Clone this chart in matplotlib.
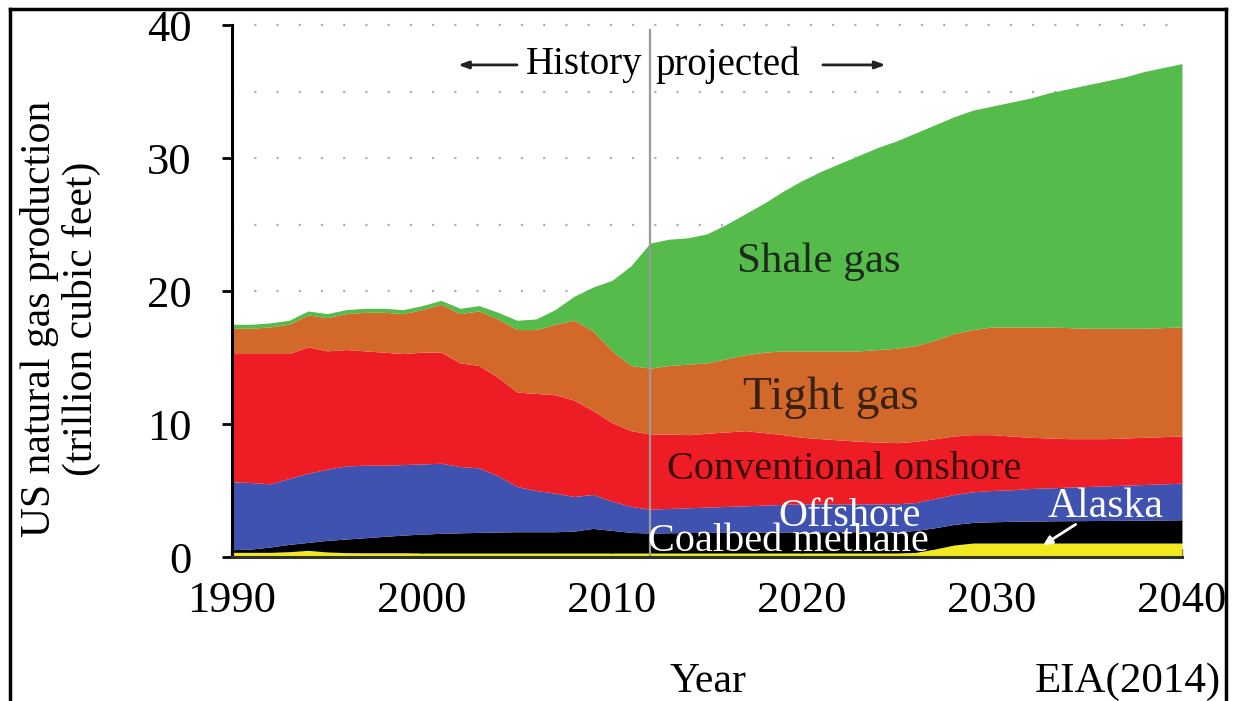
import matplotlib
matplotlib.use("Agg")
import matplotlib.pyplot as plt
from matplotlib.lines import Line2D
import numpy as np

plt.rcParams['font.family'] = ['Liberation Serif', 'DejaVu Serif']

years = list(range(1990, 2041))

# cumulative tops of each stacked layer (trillion cubic feet)
alaska_top = [0.35, 0.35, 0.35, 0.4, 0.5, 0.38, 0.33, 0.32, 0.32, 0.32,
              0.3, 0.3, 0.3, 0.3, 0.3, 0.3, 0.3, 0.3, 0.3, 0.3,
              0.3, 0.3, 0.3, 0.3, 0.3, 0.3, 0.3, 0.3, 0.3, 0.3,
              0.3, 0.3, 0.3, 0.3, 0.3, 0.3, 0.35, 0.6, 0.9, 1.05,
              1.05, 1.05, 1.05, 1.05, 1.05, 1.05, 1.05, 1.05, 1.05, 1.05, 1.05]
coalbed_top = [0.55, 0.6, 0.75, 0.95, 1.1, 1.25, 1.35, 1.45, 1.55, 1.65,
               1.72, 1.78, 1.82, 1.85, 1.88, 1.9, 1.9, 1.9, 1.95, 2.15,
               2.0, 1.85, 1.8, 1.82, 1.84, 1.85, 1.86, 1.87, 1.88, 1.88,
               1.89, 1.9, 1.9, 1.9, 1.9, 1.9, 2.0, 2.2, 2.45, 2.6,
               2.65, 2.68, 2.7, 2.72, 2.73, 2.74, 2.75, 2.76, 2.77, 2.78, 2.8]
offshore_top = [5.66, 5.6, 5.5, 5.9, 6.3, 6.6, 6.85, 6.9, 6.9, 6.95,
                7.0, 7.05, 6.8, 6.7, 6.1, 5.3, 5.0, 4.8, 4.55, 4.7,
                4.2, 3.8, 3.6, 3.65, 3.7, 3.75, 3.8, 3.85, 3.9, 3.95,
                4.0, 4.0, 4.0, 4.0, 4.0, 4.0, 4.1, 4.4, 4.7, 4.9,
                5.0, 5.05, 5.15, 5.2, 5.25, 5.3, 5.35, 5.4, 5.45, 5.5, 5.55]
conventional_top = [15.3, 15.3, 15.3, 15.3, 15.8, 15.5, 15.6, 15.5, 15.4, 15.3,
                    15.4, 15.4, 14.6, 14.4, 13.5, 12.4, 12.3, 12.2, 11.8, 11.0,
                    10.1, 9.5, 9.25, 9.25, 9.2, 9.3, 9.4, 9.5, 9.35, 9.2,
                    9.0, 8.9, 8.8, 8.7, 8.65, 8.6, 8.7, 8.9, 9.1, 9.2,
                    9.2, 9.1, 9.0, 8.95, 8.9, 8.9, 8.9, 8.95, 9.0, 9.05, 9.1]
tight_top = [17.2, 17.2, 17.3, 17.5, 18.2, 18.0, 18.3, 18.4, 18.4, 18.3,
             18.6, 19.0, 18.3, 18.5, 17.9, 17.1, 17.1, 17.5, 17.8, 17.0,
             15.5, 14.4, 14.2, 14.4, 14.5, 14.6, 14.9, 15.2, 15.4, 15.5,
             15.5, 15.5, 15.5, 15.5, 15.6, 15.7, 15.9, 16.3, 16.8, 17.1,
             17.3, 17.3, 17.3, 17.3, 17.25, 17.2, 17.2, 17.2, 17.2, 17.25, 17.3]
shale_top = [17.5, 17.5, 17.6, 17.8, 18.5, 18.3, 18.6, 18.7, 18.7, 18.6,
             18.9, 19.3, 18.7, 18.9, 18.4, 17.8, 17.9, 18.6, 19.6, 20.3,
             20.8, 21.9, 23.6, 23.9, 24.0, 24.3, 25.0, 25.8, 26.6, 27.5,
             28.3, 29.0, 29.6, 30.2, 30.8, 31.3, 31.9, 32.5, 33.1, 33.6,
             33.9, 34.2, 34.5, 34.9, 35.2, 35.5, 35.8, 36.1, 36.5, 36.8, 37.1]

layer_names = ["Alaska", "Coalbed methane", "Offshore", "Conventional onshore", "Tight gas", "Shale gas"]
layer_tops = [alaska_top, coalbed_top, offshore_top, conventional_top, tight_top, shale_top]
layer_colors = ["#F2EA1E", "#000000", "#4052B0", "#EE1C25", "#D2692A", "#55BB4A"]

x_ticks = [1990, 2000, 2010, 2020, 2030, 2040]
y_ticks = [0, 10, 20, 30, 40]
split_year = 2012

fig = plt.figure(figsize=(12.33, 7.01), dpi=100)
ax = fig.add_axes([0.1882, 0.2054, 0.7704, 0.7589])

yrs = np.array(years)
bottom = np.zeros(len(years))
for name, top, col in zip(layer_names, layer_tops, layer_colors):
    top = np.array(top)
    ax.fill_between(yrs, bottom, top, color=col, linewidth=0, zorder=2)
    bottom = top

ax.set_xlim(1990, 2040)
ax.set_ylim(0, 40)

# dotted grid
for gy in range(5, 41, 5):
    ax.axhline(gy, color="#b0b0b0", linewidth=1.6, linestyle=(0, (1, 9)), zorder=1, clip_on=False)

ax.axvline(split_year, color="#9a9a9a", linewidth=1.6, zorder=3, ymax=0.99)

for s in ["top", "right"]:
    ax.spines[s].set_visible(False)
ax.spines["left"].set_linewidth(2.2)
ax.spines["bottom"].set_linewidth(2.2)
ax.spines["bottom"].set_color("#333322")
ax.spines["left"].set_zorder(5)
ax.spines["bottom"].set_zorder(5)

ax.set_yticks(y_ticks)
ax.set_yticklabels([str(v) for v in y_ticks])
ax.set_xticks(x_ticks)
ax.set_xticklabels([str(v) for v in x_ticks])
ax.tick_params(axis="y", direction="out", length=7, width=2, labelsize=32, pad=22)
ax.tick_params(axis="x", direction="in", length=6, width=1.6, labelsize=32, pad=17, color="#333322")

fig.text(0.049, 0.545, "US natural gas production\n(trillion cubic feet)", rotation=90,
         ha="center", va="center", fontsize=30, linespacing=1.1, multialignment="center")
fig.text(0.574, 0.027, "Year", ha="center", va="center", fontsize=30)
fig.text(0.915, 0.027, "EIA(2014)", ha="center", va="center", fontsize=31)

# history / projected annotation
ax.text(2011.6, 37.0, "History", ha="right", va="center", fontsize=28, zorder=6)
ax.text(2012.3, 37.0, "projected", ha="left", va="center", fontsize=28, zorder=6)
ax.annotate("", xy=(2001.9, 37.0), xytext=(2005.0, 37.0),
            arrowprops=dict(arrowstyle="-|>,head_length=0.6,head_width=0.22", color="#222222", lw=2,
                            shrinkA=0, shrinkB=0))
ax.annotate("", xy=(2024.4, 37.0), xytext=(2021.1, 37.0),
            arrowprops=dict(arrowstyle="-|>,head_length=0.6,head_width=0.22", color="#222222", lw=2,
                            shrinkA=0, shrinkB=0))

# layer labels
ax.text(2020.9, 22.2, "Shale gas", ha="center", va="center", fontsize=31, color="#1c2a1c", zorder=6)
ax.text(2021.5, 12.0, "Tight gas", ha="center", va="center", fontsize=34, color="#3a2210", zorder=6)
ax.text(2022.2, 6.6, "Conventional onshore", ha="center", va="center", fontsize=29, color="#3a0c0c", zorder=6)
ax.text(2022.5, 3.05, "Offshore", ha="center", va="center", fontsize=29, color="white", zorder=6)
ax.text(2019.3, 1.15, "Coalbed methane", ha="center", va="center", fontsize=29, color="white", zorder=6)
ax.text(2036.0, 3.75, "Alaska", ha="center", va="center", fontsize=30, color="white", zorder=6)
ax.annotate("", xy=(2032.7, 0.9), xytext=(2034.4, 2.45),
            arrowprops=dict(arrowstyle="-|>,head_length=0.5,head_width=0.25", color="white", lw=2,
                            shrinkA=0, shrinkB=0), zorder=6)

# outer frame
for (x0, y0, x1, y1) in [(0.008, 0.0, 0.008, 0.987), (0.008, 0.987, 0.994, 0.987), (0.994, 0.987, 0.994, 0.0)]:
    fig.add_artist(Line2D([x0, x1], [y0, y1], transform=fig.transFigure, color="black", linewidth=2.5))

fig.savefig("out.png", dpi=100)
